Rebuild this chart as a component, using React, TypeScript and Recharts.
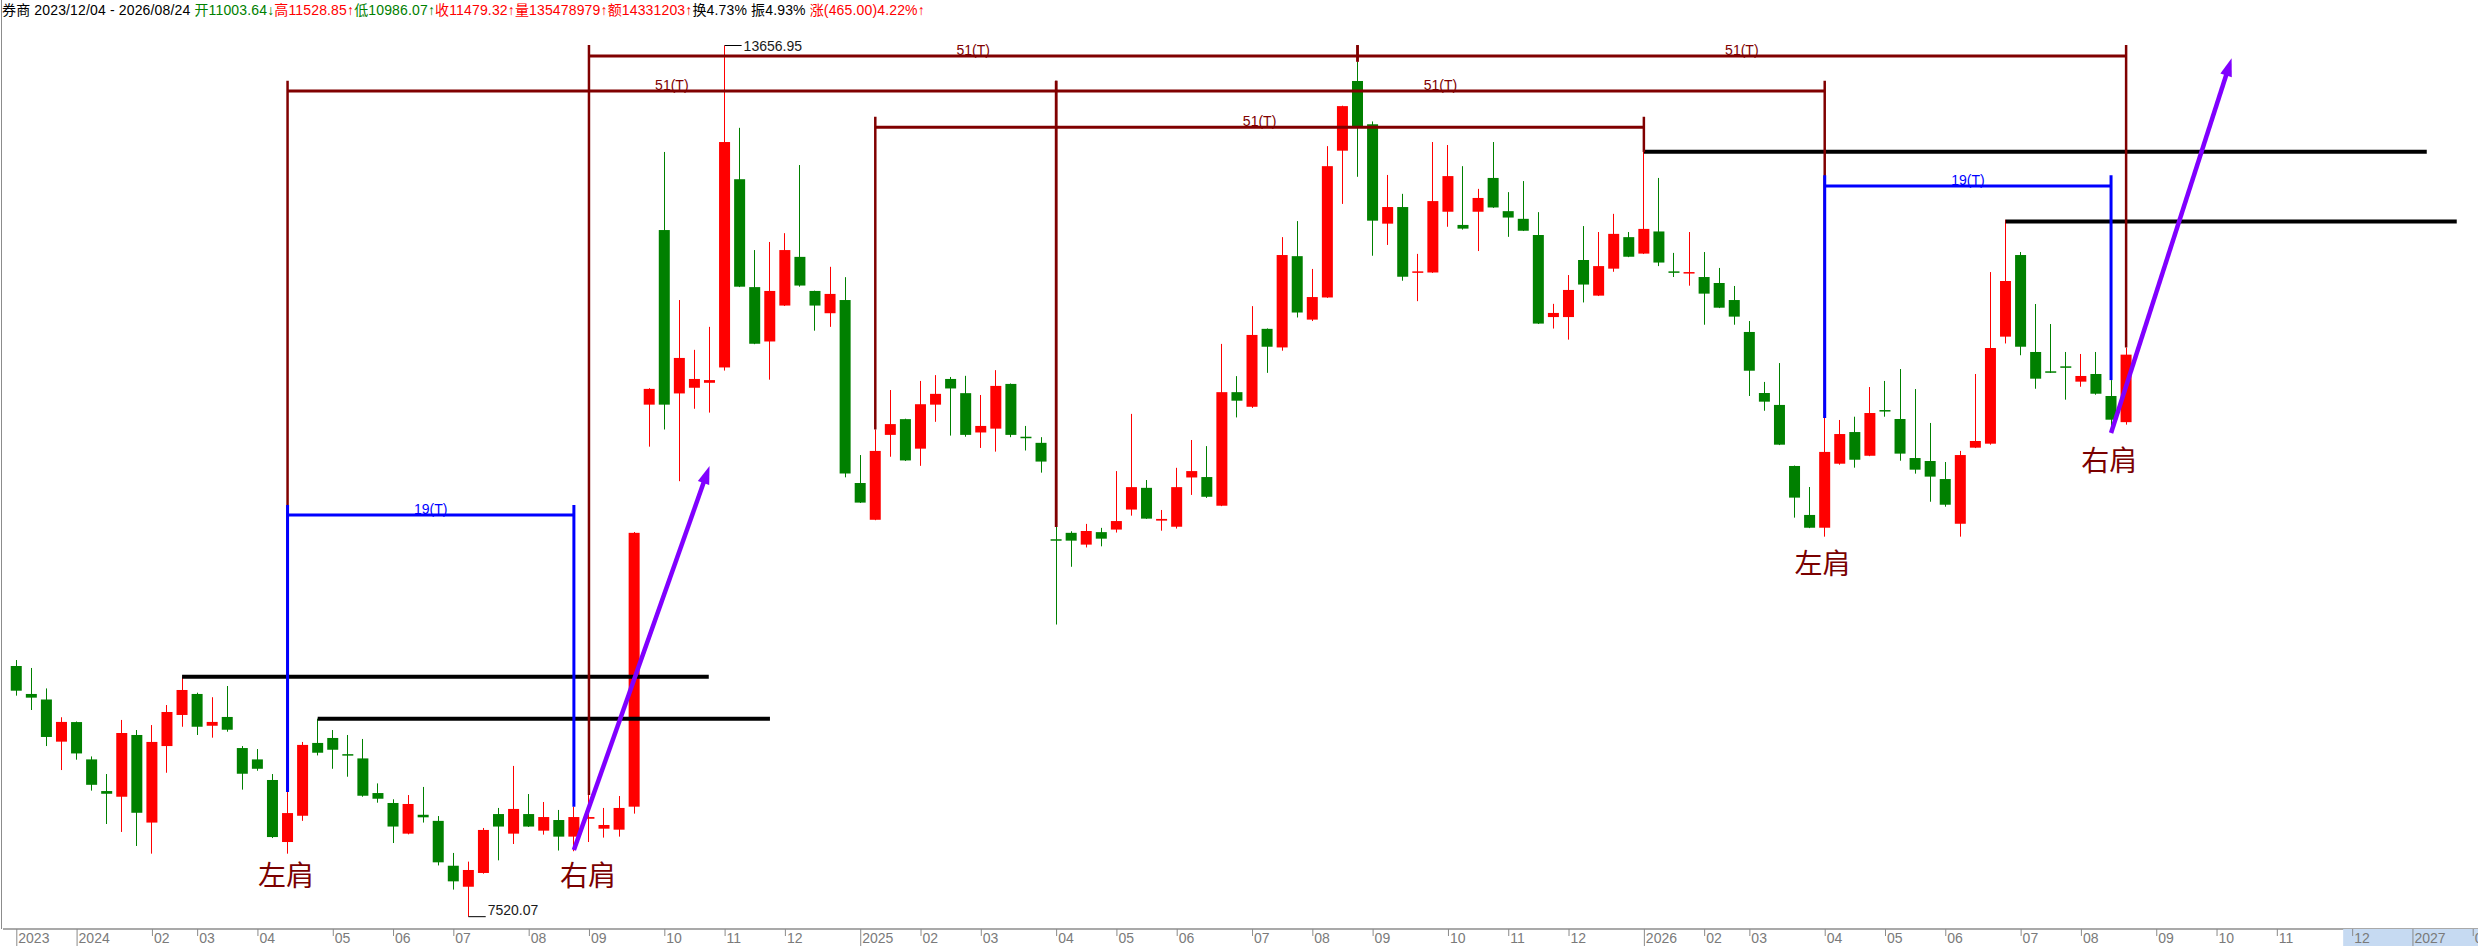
import React from 'react';
import { ComposedChart, Bar, XAxis, YAxis, ReferenceLine, ReferenceDot } from 'recharts';

// Weekly candles [open, high, low, close], first week 2023/12/04
const candles: [number, number, number, number][] = [
  [9286, 9328, 9077, 9112], [9089, 9272, 8976, 9063], [9050, 9128, 8722, 8786], [8753, 8925, 8553, 8892],
  [8891, 8895, 8626, 8670], [8628, 8649, 8408, 8449], [8405, 8525, 8173, 8386], [8365, 8906, 8117, 8814],
  [8800, 8835, 8018, 8252], [8183, 8870, 7964, 8751], [8722, 9011, 8534, 8962], [8941, 9210, 8858, 9117],
  [9089, 9098, 8800, 8858], [8865, 9066, 8781, 8892], [8927, 9145, 8823, 8837], [8708, 8722, 8415, 8527],
  [8628, 8701, 8548, 8562], [8483, 8525, 8074, 8081], [8046, 8398, 7964, 8250], [8231, 8751, 8195, 8730],
  [8744, 8915, 8656, 8675], [8779, 8835, 8562, 8696], [8665, 8800, 8506, 8656], [8635, 8772, 8365, 8372],
  [8391, 8459, 8323, 8351], [8321, 8347, 8039, 8155], [8105, 8377, 8100, 8314], [8238, 8434, 8183, 8220],
  [8195, 8229, 7881, 7903], [7879, 7969, 7711, 7769], [7731, 7908, 7520.07, 7849], [7828, 8145, 7823, 8131],
  [8243, 8286, 7917, 8155], [8105, 8582, 8032, 8279], [8243, 8384, 8152, 8155], [8126, 8328, 8098, 8222],
  [8201, 8272, 7986, 8084], [8084, 8295, 7981, 8222], [8210, 8377, 8046, 8222], [8140, 8286, 8077, 8166],
  [8133, 8370, 8084, 8286], [8295, 10230, 8246, 10224], [11127, 11243, 10831, 11238], [12357, 12907, 10952, 11127],
  [11206, 11864, 10588, 11456], [11246, 11513, 11098, 11308], [11281, 11675, 11071, 11300], [11389, 13656.95, 11367, 12977],
  [12715, 13077, 11955, 11958], [11955, 12216, 11553, 11556], [11572, 12273, 11303, 11928], [11825, 12335, 11822, 12216],
  [12168, 12815, 11958, 11966], [11928, 11930, 11648, 11825], [11771, 12098, 11675, 11907], [11864, 12025, 10615, 10642],
  [10575, 10772, 10434, 10437], [10316, 10952, 10313, 10801], [10914, 11230, 10760, 10990], [11025, 11028, 10730, 10734],
  [10817, 11294, 10696, 11130], [11127, 11335, 11006, 11203], [11308, 11322, 10909, 11241], [11208, 11330, 10901, 10914],
  [10931, 11195, 10822, 10977], [10958, 11370, 10796, 11259], [11273, 11276, 10898, 10914], [10901, 10977, 10804, 10893],
  [10858, 10898, 10648, 10726], [10179, 10265, 9578, 10170], [10224, 10235, 9985, 10169], [10141, 10287, 10121, 10237],
  [10229, 10259, 10129, 10183], [10247, 10659, 10226, 10307], [10388, 11062, 10345, 10546], [10541, 10596, 10322, 10324],
  [10310, 10385, 10239, 10322], [10267, 10682, 10254, 10546], [10614, 10878, 10491, 10659], [10617, 10835, 10470, 10478],
  [10415, 11555, 10412, 11215], [11215, 11328, 11037, 11155], [11112, 11821, 11104, 11618], [11661, 11664, 11351, 11535],
  [11530, 12307, 11507, 12181], [12173, 12420, 11741, 11776], [11726, 12083, 11716, 11885], [11882, 12948, 11879, 12807],
  [12916, 13233, 12541, 13230], [13407, 13543, 12732, 13087], [13102, 13122, 12176, 12423], [12402, 12745, 12252, 12519],
  [12519, 12612, 12000, 12028], [12058, 12189, 11856, 12066], [12058, 12977, 12055, 12561], [12486, 12956, 12380, 12737],
  [12393, 12807, 12360, 12367], [12486, 12647, 12209, 12583], [12724, 12977, 12513, 12516], [12490, 12624, 12309, 12445],
  [12436, 12702, 12350, 12352], [12322, 12483, 11695, 11698], [11744, 11837, 11663, 11773], [11744, 12040, 11585, 11935],
  [12146, 12385, 11847, 11973], [11895, 12343, 11892, 12103], [12085, 12471, 12063, 12330], [12307, 12343, 12166, 12169],
  [12191, 12907, 12188, 12365], [12347, 12724, 12103, 12128], [12066, 12196, 12026, 12061], [12055, 12343, 11965, 12061],
  [12026, 12202, 11690, 11909], [11984, 12090, 11807, 11810], [11864, 11963, 11690, 11747], [11639, 11716, 11188, 11366],
  [11209, 11287, 11084, 11148], [11125, 11420, 10842, 10845], [10695, 10698, 10331, 10472], [10350, 10547, 10257, 10260],
  [10260, 11033, 10197, 10794], [10711, 11019, 10704, 10920], [10934, 11042, 10683, 10739], [10767, 11251, 10764, 11068],
  [11089, 11294, 11042, 11080], [11026, 11378, 10732, 10782], [10751, 11237, 10641, 10669], [10730, 10998, 10443, 10620],
  [10603, 10723, 10408, 10422], [10288, 10801, 10197, 10772], [10824, 11343, 10821, 10871], [10852, 12061, 10845, 11526],
  [11606, 12430, 11558, 11998], [12181, 12202, 11475, 11535], [11498, 11836, 11239, 11310], [11362, 11695, 11350, 11352],
  [11397, 11498, 11162, 11387], [11289, 11484, 11253, 11329], [11343, 11498, 11197, 11204], [11188, 11300, 10937, 11021],
  [11003.64, 11528.85, 10986.07, 11479.32],
];

const tickIndex = [0, 4, 9, 12, 16, 21, 25, 29, 34, 38, 43, 47, 51, 56, 60, 64, 69, 73, 77, 82, 86, 90, 95, 99, 103,
  108, 112, 115, 120, 124, 128, 133, 137, 142, 146, 150, 155, 159, 163];
const tickLabels = ['2023', '2024', '02', '03', '04', '05', '06', '07', '08', '09', '10', '11', '12',
  '2025', '02', '03', '04', '05', '06', '07', '08', '09', '10', '11', '12',
  '2026', '02', '03', '04', '05', '06', '07', '08', '09', '10', '11', '12', '2027', '02'];

// horizontal black neckline segments: from index, to index, price
const blackLevels = [
  { from: 11, to: 45.95, price: 9210 },
  { from: 20, to: 50.01, price: 8915 },
  { from: 108, to: 159.95, price: 12908 },
  { from: 132, to: 161.94, price: 12418 },
];

// period brackets (start, end, bar level, vertical top, start bottom, end bottom)
const brackets51 = [
  { from: 18, to: 69, level: 13336, top: 13409, fromBase: 8398, toBase: 10265 },
  { from: 38, to: 89, level: 13583, top: 13660, fromBase: 8377, toBase: 13543 },
  { from: 57, to: 108, level: 13081, top: 13155, fromBase: 10952, toBase: 12907 },
  { from: 69, to: 120, level: 13336, top: 13409, fromBase: 10265, toBase: 11033 },
  { from: 89, to: 140, level: 13583, top: 13660, fromBase: 13543, toBase: 11528.85 },
];
const brackets19 = [
  { from: 18, to: 37, level: 10350, top: 10420, fromBase: 8398, toBase: 8295 },
  { from: 120, to: 139, level: 12667, top: 12743, fromBase: 11033, toBase: 11300 },
];

const arrows = [
  { x1: 37, y1: 7990, x2: 46, y2: 10695 },
  { x1: 139, y1: 10927, x2: 147, y2: 13567 },
];

const shoulderLabels = [
  { text: '左肩', x: 17.9, y: 7824 },
  { text: '右肩', x: 37.94, y: 7824 },
  { text: '左肩', x: 119.85, y: 10016 },
  { text: '右肩', x: 138.88, y: 10743 },
];

const extremes = [
  { text: '13656.95', x: 47, to: 48.13, y: 13656.95, mode: 'mid' },
  { text: '7520.07', x: 30, to: 31.15, y: 7520.07, mode: 'above' },
];

const headerParts: [string, string][] = [
  ['券商 2023/12/04 - 2026/08/24 ', '#000000'],
  ['开11003.64↓', '#008000'],
  ['高11528.85↑', '#FF0000'],
  ['低10986.07↑', '#008000'],
  ['收11479.32↑', '#FF0000'],
  ['量135478979↑', '#FF0000'],
  ['额14331203↑', '#FF0000'],
  ['换4.73% ', '#000000'],
  ['振4.93% ', '#000000'],
  ['涨(465.00)4.22%↑', '#FF0000'],
];

const W = 2478;
const H = 946;
const X_MIN = -0.8826;
const X_MAX = 163.35;
const Y_MIN = 7433.3;
const Y_MAX = 13836.6;
const RED = '#FF0000';
const GREEN = '#008000';
const BROWN = '#800000';
const BLUE = '#0000FF';
const PURPLE = '#8000FF';
const FONT = '"Liberation Sans", Arial, "Noto Sans CJK SC", sans-serif';

const data = candles.map(([o, h, l, c], i) => ({ i, o, h, l, c }));
const labelOf = new Map(tickIndex.map((t, k) => [t, tickLabels[k]]));

function CandleShape(props: any) {
  const { x, y, width, height } = props;
  const p = props.payload ?? props;
  if (x == null || y == null || !p) return null;
  const { o, h, l, c } = p;
  const color = c >= o ? RED : GREEN;
  const k = height / (h - l || 1);
  const yAt = (v: number) => y + (h - v) * k;
  const top = yAt(Math.max(o, c));
  const bot = yAt(Math.min(o, c));
  const cx = Math.floor(x + width / 2) + 0.5;
  return (
    <g>
      <line x1={cx} x2={cx} y1={y} y2={y + height} stroke={color} strokeWidth={1} />
      <rect x={x} y={top} width={width} height={Math.max(bot - top, 1.5)} fill={color} />
    </g>
  );
}

function AxisTick(props: any) {
  const { x, y, payload } = props;
  const label = labelOf.get(payload.value) ?? '';
  const isYear = label.length === 4;
  return (
    <g>
      {payload.value === 155 && <rect x={x - 9} y={y} width={200} height={17} fill="#C6DAF2" />}
      <line x1={x + 0.5} x2={x + 0.5} y1={y} y2={y + (isYear ? 17 : 7)} stroke="#8a8a8a" strokeWidth={1} />
      <text x={x + 2} y={y + 14} fontSize={14} fill="#7a7a7a" fontFamily={FONT}>{label}</text>
    </g>
  );
}

const bracketBar = (label: string, color: string) => (p: any) => (
  <g>
    <line x1={p.x1} y1={p.y1} x2={p.x2} y2={p.y2} stroke={color} strokeWidth={3} />
    <text x={(p.x1 + p.x2) / 2} y={p.y1 - 1} textAnchor="middle" fontSize={14} fill={color} fontFamily={FONT}>{label}</text>
  </g>
);

const arrowShape = (p: any) => {
  const { x1, y1, x2, y2 } = p;
  const dx = x2 - x1;
  const dy = y2 - y1;
  const len = Math.hypot(dx, dy) || 1;
  const ux = dx / len;
  const uy = dy / len;
  const headLen = 18;
  const half = 6;
  const bx = x2 - ux * headLen;
  const by = y2 - uy * headLen;
  const px = -uy;
  const py = ux;
  return (
    <g>
      <line x1={x1} y1={y1} x2={bx + ux * 3} y2={by + uy * 3} stroke={PURPLE} strokeWidth={4.5} />
      <polygon points={`${x2},${y2} ${bx + px * half},${by + py * half} ${bx - px * half},${by - py * half}`} fill={PURPLE} />
    </g>
  );
};

const extremeShape = (text: string, mode: string) => (p: any) => (
  <g>
    <line x1={p.x1} y1={p.y1} x2={p.x2} y2={p.y2} stroke="#000" strokeWidth={1} />
    <text x={p.x2 + 2} y={mode === 'mid' ? p.y1 + 5 : p.y1 - 1.5} fontSize={14} fill="#1a1a1a" fontFamily={FONT}>{text}</text>
  </g>
);

const shoulderShape = (text: string) => (p: any) => (
  <text x={p.cx} y={p.cy} textAnchor="middle" dominantBaseline="central" fontSize={28}
    fill="#7A0000" fontFamily='"Noto Sans CJK SC", sans-serif'>{text}</text>
);

export default function App() {
  return (
    <div style={{ position: 'absolute', left: 0, top: 0, width: W, height: H, overflow: 'hidden', background: '#fff' }}>
      <div style={{ position: 'absolute', left: 2, top: 2, fontSize: 14, lineHeight: '16px', letterSpacing: '0.15px', fontFamily: FONT, whiteSpace: 'nowrap' }}>
        {headerParts.map(([t, col], k) => (
          <span key={k} style={{ color: col }}>{t}</span>
        ))}
      </div>
      <div style={{ position: 'absolute', left: 1, top: 0, width: 1, height: 929, background: '#8c8c8c' }} />
      <ComposedChart width={W} height={H} data={data} margin={{ top: 20, right: 0, bottom: 0, left: 3 }}>
        <XAxis dataKey="i" type="number" domain={[X_MIN, X_MAX]} allowDataOverflow ticks={tickIndex} interval={0}
          tick={(p: any) => <AxisTick {...p} />} tickLine={false} tickSize={0} tickMargin={0} height={17}
          axisLine={{ stroke: '#8c8c8c', strokeWidth: 1.5 }} />
        <YAxis type="number" domain={[Y_MIN, Y_MAX]} allowDataOverflow hide />
        <Bar dataKey={(d: any) => [d.l, d.h]} barSize={11} shape={(p: any) => <CandleShape {...p} />} isAnimationActive={false} />

        {blackLevels.map((b, k) => (
          <ReferenceLine key={`bl${k}`} segment={[{ x: b.from, y: b.price }, { x: b.to, y: b.price }]} stroke="#000" strokeWidth={4} ifOverflow="visible" />
        ))}

        {brackets51.map((b, k) => (
          <React.Fragment key={`b51${k}`}>
            <ReferenceLine segment={[{ x: b.from, y: b.top }, { x: b.from, y: b.fromBase }]} stroke={BROWN} strokeWidth={2.5} ifOverflow="visible" />
            <ReferenceLine segment={[{ x: b.to, y: b.top }, { x: b.to, y: b.toBase }]} stroke={BROWN} strokeWidth={2.5} ifOverflow="visible" />
            <ReferenceLine segment={[{ x: b.from, y: b.level }, { x: b.to, y: b.level }]} shape={bracketBar('51(T)', BROWN)} ifOverflow="visible" />
          </React.Fragment>
        ))}

        {brackets19.map((b, k) => (
          <React.Fragment key={`b19${k}`}>
            <ReferenceLine segment={[{ x: b.from, y: b.top }, { x: b.from, y: b.fromBase }]} stroke={BLUE} strokeWidth={3} ifOverflow="visible" />
            <ReferenceLine segment={[{ x: b.to, y: b.top }, { x: b.to, y: b.toBase }]} stroke={BLUE} strokeWidth={3} ifOverflow="visible" />
            <ReferenceLine segment={[{ x: b.from, y: b.level }, { x: b.to, y: b.level }]} shape={bracketBar('19(T)', BLUE)} ifOverflow="visible" />
          </React.Fragment>
        ))}

        {arrows.map((a, k) => (
          <ReferenceLine key={`ar${k}`} segment={[{ x: a.x1, y: a.y1 }, { x: a.x2, y: a.y2 }]} shape={arrowShape} ifOverflow="visible" />
        ))}

        {extremes.map((e, k) => (
          <ReferenceLine key={`ex${k}`} segment={[{ x: e.x, y: e.y }, { x: e.to, y: e.y }]} shape={extremeShape(e.text, e.mode)} ifOverflow="visible" />
        ))}

        {shoulderLabels.map((s, k) => (
          <ReferenceDot key={`sh${k}`} x={s.x} y={s.y} r={0} shape={shoulderShape(s.text)} ifOverflow="visible" />
        ))}
      </ComposedChart>
    </div>
  );
}
